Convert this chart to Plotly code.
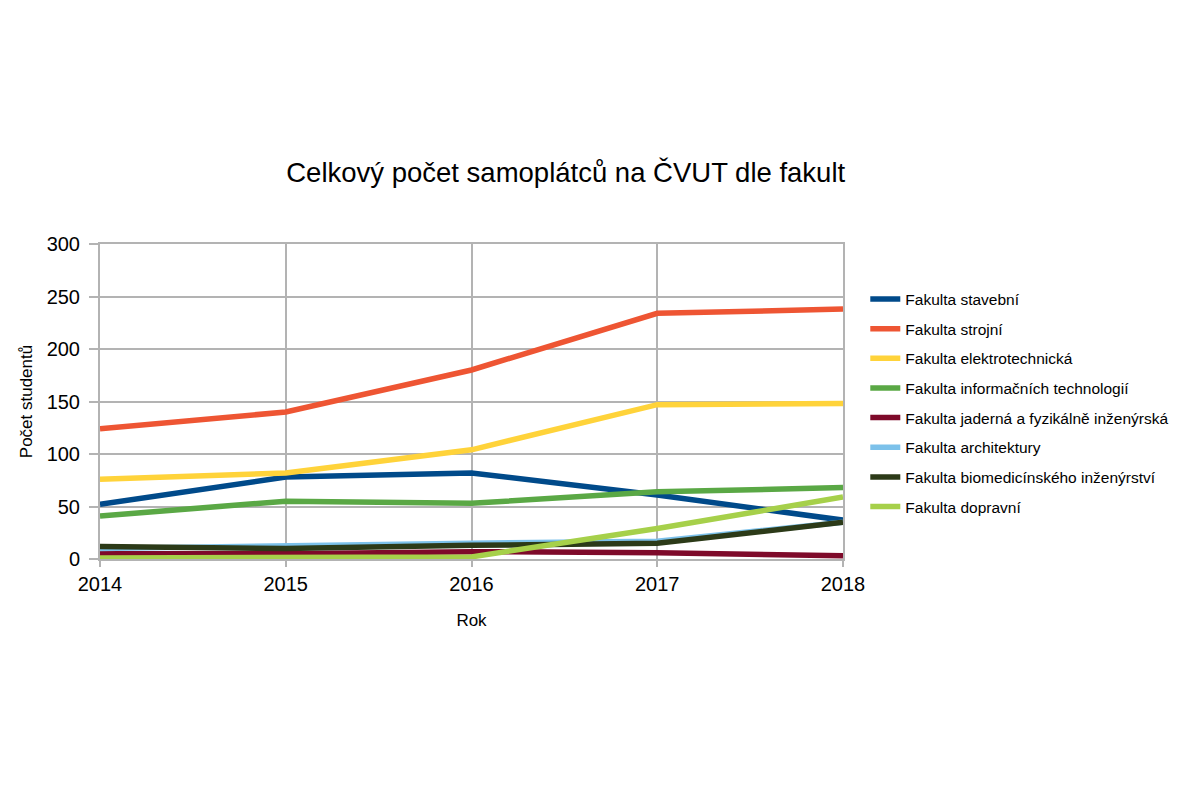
import plotly.graph_objects as go

years = [2014, 2015, 2016, 2017, 2018]
names = [
    "Fakulta stavební",
    "Fakulta strojní",
    "Fakulta elektrotechnická",
    "Fakulta informačních technologií",
    "Fakulta jaderná a fyzikálně inženýrská",
    "Fakulta architektury",
    "Fakulta biomedicínského inženýrství",
    "Fakulta dopravní",
]
stavebni = [52, 78, 82, 61, 37]
strojni = [124, 140, 180, 234, 238]
elektro = [76, 82, 104, 147, 148]
fit = [41, 55, 53, 64, 68]
jaderna = [5, 5, 7, 6, 3]
architektury = [10, 13, 15, 17, 35]
biomed = [12, 10, 13, 15, 35]
dopravni = [1, 1, 2, 29, 59]
series = [stavebni, strojni, elektro, fit, jaderna, architektury, biomed, dopravni]
colors = ["#004a8a", "#ee5533", "#ffd33a", "#5aa845", "#7e0a2a", "#7cc1ea", "#2c3a18", "#a6d04a"]

fig = go.Figure()
for i, (n, v, c) in enumerate(zip(names, series, colors)):
    fig.add_trace(go.Scatter(x=years, y=v, name=n, mode="lines",
                             line=dict(color=c, width=5.5), legendgroup=str(i)))

font = "Liberation Sans, Arial, sans-serif"
fig.update_layout(
    width=1196, height=797,
    paper_bgcolor="white", plot_bgcolor="white",
    margin=dict(l=100, r=353, t=244, b=238),
    font=dict(family=font, color="black"),
    title=dict(text="Celkový počet samoplátců na ČVUT dle fakult", x=0.473, xanchor="center",
               y=1 - 172 / 797, yanchor="middle", font=dict(size=27.5, color="black")),
    showlegend=True,
    legend=dict(x=1.03, xanchor="left", y=0.878, yanchor="top", font=dict(size=15.5),
                tracegroupgap=6.5, bgcolor="rgba(0,0,0,0)"),
    xaxis=dict(range=[2014, 2018], tickvals=years, showgrid=True, gridcolor="#b3b3b3", gridwidth=2,
               showline=True, linecolor="#b3b3b3", linewidth=2, mirror=True, ticks="outside",
               ticklen=6, tickcolor="#b3b3b3", tickwidth=2, tickfont=dict(size=20), zeroline=False,
               title=dict(text="Rok", font=dict(size=17), standoff=20)),
    yaxis=dict(range=[0, 300], tickvals=[0, 50, 100, 150, 200, 250, 300], showgrid=True,
               gridcolor="#b3b3b3", gridwidth=2, showline=True, linecolor="#b3b3b3", linewidth=2,
               mirror=True, ticks="outside", ticklen=9, tickcolor="#b3b3b3", tickwidth=2,
               ticklabelstandoff=5, tickfont=dict(size=20), zeroline=False,
               title=dict(text="Počet studentů", font=dict(size=17), standoff=10)),
)
fig.write_html("out.html")
